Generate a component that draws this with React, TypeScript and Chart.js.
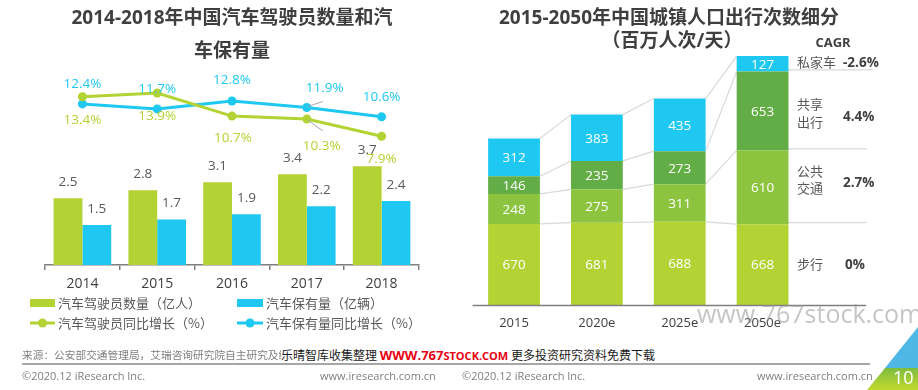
import React, { useEffect, useRef } from 'react';
import { Chart, registerables } from 'chart.js';

Chart.register(...registerables);

const FONT = "'Open Sans', 'Noto Sans CJK SC', sans-serif";

// ---- Left chart data ----
const leftYears = ['2014', '2015', '2016', '2017', '2018'];
const driverCount = [2.5, 2.8, 3.1, 3.4, 3.7];
const vehicleCount = [1.5, 1.7, 1.9, 2.2, 2.4];
const driverGrowth = [13.4, 13.9, 10.7, 10.3, 7.9];
const vehicleGrowth = [12.4, 11.7, 12.8, 11.9, 10.6];
const leftSeriesNames = ['汽车驾驶员数量（亿人）', '汽车保有量（亿辆）', '汽车驾驶员同比增长（%）', '汽车保有量同比增长（%）'];

// ---- Right chart data ----
const rightYears = ['2015', '2020e', '2025e', '2050e'];
const walk = [670, 681, 688, 668];
const transit = [248, 275, 311, 610];
const shared = [146, 235, 273, 653];
const privateCar = [312, 383, 435, 127];
const modeNames = ['步行', '公共交通', '共享出行', '私家车'];
const modeCagr = ['0%', '2.7%', '4.4%', '-2.6%'];

const GREEN = '#B3D234';
const BLUE = '#1FC8F0';
const MIDGREEN = '#8CC43F';
const DARKGREEN = '#63AD46';

// label offsets (style only)
const blueOffsets = [[0, -20], [0, -20], [0, -21], [18, -19], [0, -20]];
const greenOffsets = [[0, 23], [0, 23], [1, 22], [15, 27], [0, 23]];

const leftLabelPlugin = {
  id: 'leftLabels',
  afterDatasetsDraw(chart: any) {
    const ctx = chart.ctx;
    ctx.save();
    ctx.textAlign = 'center';
    ctx.textBaseline = 'middle';
    chart.data.datasets.forEach((ds: any, di: number) => {
      const meta = chart.getDatasetMeta(di);
      meta.data.forEach((el: any, i: number) => {
        const v = ds.data[i];
        if (ds.type === 'bar') {
          ctx.font = `13.5px ${FONT}`;
          ctx.fillStyle = '#595959';
          ctx.fillText(v.toFixed(1), el.x, el.y - 16);
        } else {
          const isBlue = ds.borderColor === BLUE;
          const off = isBlue ? blueOffsets[i] : greenOffsets[i];
          if (i === 3) {
            ctx.strokeStyle = '#a6a6a6';
            ctx.lineWidth = 1;
            ctx.beginPath();
            if (isBlue) {
              ctx.moveTo(el.x + 1, el.y - 1);
              ctx.lineTo(el.x + 16, el.y - 6);
            } else {
              ctx.moveTo(el.x + 1, el.y + 1);
              ctx.lineTo(el.x + 16, el.y + 12);
            }
            ctx.stroke();
          }
          ctx.font = `13.5px ${FONT}`;
          ctx.fillStyle = isBlue ? BLUE : GREEN;
          ctx.fillText(v.toFixed(1) + '%', el.x + off[0], el.y + off[1]);
        }
      });
    });
    ctx.restore();
  },
};

const rightPlugin = {
  id: 'rightExtras',
  beforeDatasetsDraw(chart: any) {
    const ctx = chart.ctx;
    const area = chart.chartArea;
    ctx.save();
    ctx.strokeStyle = '#d9d9d9';
    ctx.lineWidth = 1.2;
    chart.data.datasets.forEach((_ds: any, di: number) => {
      const meta = chart.getDatasetMeta(di);
      for (let i = 0; i < meta.data.length - 1; i++) {
        const a = meta.data[i];
        const b = meta.data[i + 1];
        ctx.beginPath();
        ctx.moveTo(a.x + a.width / 2, a.y);
        ctx.lineTo(b.x - b.width / 2, b.y);
        ctx.stroke();
      }
    });
    for (let di = 0; di < 3; di++) {
      const meta = chart.getDatasetMeta(di);
      const el = meta.data[meta.data.length - 1];
      ctx.beginPath();
      ctx.moveTo(el.x + el.width / 2 - 7, el.y - 1.5);
      ctx.lineTo(area.right + (di === 2 ? 69 : 63), el.y - 1.5);
      ctx.stroke();
    }
    ctx.restore();
  },
  afterDatasetsDraw(chart: any) {
    const ctx = chart.ctx;
    const area = chart.chartArea;
    ctx.save();
    ctx.textAlign = 'center';
    ctx.textBaseline = 'middle';
    ctx.font = `13.5px ${FONT}`;
    ctx.fillStyle = '#ffffff';
    chart.data.datasets.forEach((ds: any, di: number) => {
      const meta = chart.getDatasetMeta(di);
      meta.data.forEach((el: any, i: number) => {
        ctx.fillText(String(ds.data[i]), el.x, (el.y + el.base) / 2 + 1);
      });
    });
    ctx.strokeStyle = '#7f7f7f';
    ctx.lineWidth = 1.5;
    ctx.beginPath();
    ctx.moveTo(area.left, area.bottom + 0.5);
    ctx.lineTo(area.right + 62, area.bottom + 0.5);
    ctx.stroke();
    ctx.restore();
  },
};

function Txt(props: { x: number; y: number; children: any; size?: number; color?: string; bold?: boolean; center?: boolean; family?: string; style?: any }) {
  const { x, y, children, size = 13, color = '#595959', bold, center, family, style } = props;
  return (
    <div
      style={{
        position: 'absolute',
        left: x,
        top: y - 12,
        height: 24,
        lineHeight: '24px',
        whiteSpace: 'nowrap',
        fontFamily: family || FONT,
        fontSize: size,
        color,
        fontWeight: bold ? 700 : 400,
        transform: center ? 'translateX(-50%)' : undefined,
        ...style,
      }}
    >
      {children}
    </div>
  );
}

export default function App() {
  const leftRef = useRef<HTMLCanvasElement>(null);
  const rightRef = useRef<HTMLCanvasElement>(null);

  useEffect(() => {
    const left = new Chart(leftRef.current as HTMLCanvasElement, {
      type: 'bar',
      data: {
        labels: leftYears,
        datasets: [
          {
            type: 'line', label: leftSeriesNames[2], data: driverGrowth, yAxisID: 'y1',
            borderColor: GREEN, backgroundColor: GREEN, borderWidth: 3, pointRadius: 4.5,
            pointBackgroundColor: GREEN, pointBorderWidth: 0, order: 0, tension: 0,
          },
          {
            type: 'line', label: leftSeriesNames[3], data: vehicleGrowth, yAxisID: 'y1',
            borderColor: BLUE, backgroundColor: BLUE, borderWidth: 3, pointRadius: 4.5,
            pointBackgroundColor: BLUE, pointBorderWidth: 0, order: 0, tension: 0,
          },
          {
            type: 'bar', label: leftSeriesNames[0], data: driverCount, yAxisID: 'y',
            backgroundColor: GREEN, order: 1, categoryPercentage: 0.77, barPercentage: 1,
          },
          {
            type: 'bar', label: leftSeriesNames[1], data: vehicleCount, yAxisID: 'y',
            backgroundColor: BLUE, order: 1, categoryPercentage: 0.77, barPercentage: 1,
          },
        ] as any,
      },
      options: {
        responsive: false,
        animation: false,
        layout: { padding: { left: 45, right: 41, top: 78, bottom: 0 } },
        plugins: { legend: { display: false }, tooltip: { enabled: false } },
        scales: {
          x: {
            offset: true,
            grid: { offset: true, drawOnChartArea: false, drawTicks: true, tickLength: 5, color: '#7f7f7f', lineWidth: 1.5 },
            border: { display: true, color: '#7f7f7f', width: 1.5 },
            ticks: { font: { size: 14, family: FONT }, color: '#404040', padding: 6 },
            afterFit: (s: any) => { s.height = 35; },
          },
          y: { display: false, min: 0, max: 7 },
          y1: { display: false, min: -10, max: 16 },
        },
      } as any,
      plugins: [leftLabelPlugin],
    });

    const right = new Chart(rightRef.current as HTMLCanvasElement, {
      type: 'bar',
      data: {
        labels: rightYears,
        datasets: [
          { label: modeNames[0], data: walk, backgroundColor: GREEN },
          { label: modeNames[1], data: transit, backgroundColor: MIDGREEN },
          { label: modeNames[2], data: shared, backgroundColor: DARKGREEN },
          { label: modeNames[3], data: privateCar, backgroundColor: BLUE },
        ].map((d) => ({ ...d, categoryPercentage: 1, barPercentage: 0.625, borderWidth: 0 })),
      },
      options: {
        responsive: false,
        animation: false,
        layout: { padding: { left: 12.6, right: 114, top: 51, bottom: 0 } },
        plugins: { legend: { display: false }, tooltip: { enabled: false } },
        scales: {
          x: {
            stacked: true,
            grid: { display: false, drawTicks: false },
            border: { display: false },
            ticks: { font: { size: 13, family: FONT }, color: '#404040', padding: 10 },
            afterFit: (s: any) => { s.height = 35; },
          },
          y: { display: false, stacked: true, min: 0, max: 2100 },
        },
      } as any,
      plugins: [rightPlugin],
    });

    return () => {
      left.destroy();
      right.destroy();
    };
  }, []);

  const CJK = "'Noto Sans CJK SC', 'Open Sans', sans-serif";

  return (
    <div style={{ position: 'fixed', left: 0, top: 0, width: 918, height: 390, background: '#fff', overflow: 'hidden', fontFamily: FONT }}>
      <canvas ref={leftRef} width={460} height={300} style={{ position: 'absolute', left: 0, top: 0 }} />
      <canvas ref={rightRef} width={458} height={340} style={{ position: 'absolute', left: 460, top: 0 }} />

      {/* Left title */}
      <Txt x={232} y={17} size={19} bold center color="#3f3f3f">2014-2018年中国汽车驾驶员数量和汽</Txt>
      <Txt x={232} y={50} size={19} bold center color="#3f3f3f">车保有量</Txt>

      {/* Left legend */}
      <div style={{ position: 'absolute', left: 30, top: 299, width: 25, height: 8, background: GREEN }} />
      <Txt x={58} y={303} family={CJK}>{leftSeriesNames[0]}</Txt>
      <div style={{ position: 'absolute', left: 237, top: 299, width: 26, height: 8, background: BLUE }} />
      <Txt x={266} y={303} family={CJK}>{leftSeriesNames[1]}</Txt>
      <svg style={{ position: 'absolute', left: 28, top: 316 }} width={30} height={14}>
        <line x1={2} y1={7} x2={27} y2={7} stroke={GREEN} strokeWidth={3} />
        <circle cx={14.5} cy={7} r={4.5} fill={GREEN} />
      </svg>
      <Txt x={58} y={323} family={CJK}>{leftSeriesNames[2]}</Txt>
      <svg style={{ position: 'absolute', left: 235, top: 316 }} width={30} height={14}>
        <line x1={2} y1={7} x2={28} y2={7} stroke={BLUE} strokeWidth={3} />
        <circle cx={15} cy={7} r={4.5} fill={BLUE} />
      </svg>
      <Txt x={266} y={323} family={CJK}>{leftSeriesNames[3]}</Txt>

      {/* Right title */}
      <Txt x={669} y={17} size={19} bold center color="#3f3f3f">2015-2050年中国城镇人口出行次数细分</Txt>
      <Txt x={672} y={40} size={19} bold center color="#3f3f3f">（百万人次/天）</Txt>

      {/* Right annotations */}
      <Txt x={833} y={42} size={13} bold center color="#3f3f3f">CAGR</Txt>
      <Txt x={797} y={62}>{modeNames[3]}</Txt>
      <Txt x={843} y={62} size={13.5} bold color="#3f3f3f">{modeCagr[3]}</Txt>
      <Txt x={797} y={104}>共享</Txt>
      <Txt x={797} y={122}>出行</Txt>
      <Txt x={843} y={116} size={13.5} bold color="#3f3f3f">{modeCagr[2]}</Txt>
      <Txt x={797} y={171}>公共</Txt>
      <Txt x={797} y={188}>交通</Txt>
      <Txt x={843} y={182} size={13.5} bold color="#3f3f3f">{modeCagr[1]}</Txt>
      <Txt x={797} y={264}>{modeNames[0]}</Txt>
      <Txt x={845} y={264} size={13.5} bold color="#3f3f3f">{modeCagr[0]}</Txt>

      {/* Big watermark */}
      <Txt x={697} y={313} size={25} color="rgba(150,150,150,0.55)" style={{ height: 34, lineHeight: '34px', top: 296 }}>www.767stock.com</Txt>

      {/* Footer */}
      <Txt x={22} y={355} size={10.7} color="#7f7f7f">来源：公安部交通管理局，艾瑞咨询研究院自主研究及绘制。</Txt>
      <div style={{ position: 'absolute', left: 281, top: 346, height: 18, lineHeight: '18px', background: '#fff', paddingRight: 2, whiteSpace: 'nowrap', fontSize: 12, color: '#1a1a1a', fontFamily: CJK }}>
        乐晴智库收集整理{' '}
        <span style={{ color: '#e60012', fontWeight: 700, fontFamily: "'Open Sans', sans-serif", fontSize: 13 }}>
          WWW.767<span style={{ fontSize: 11 }}>STOCK.COM</span>
        </span>{' '}
        更多投资研究资料免费下载
      </div>
      <div style={{ position: 'absolute', left: 22, top: 363, width: 848, height: 1.5, background: '#a6a6a6' }} />
      <Txt x={22} y={376} size={11} color="#7f7f7f">©2020.12 iResearch Inc.</Txt>
      <Txt x={320} y={376} size={11} color="#7f7f7f">www.iresearch.com.cn</Txt>
      <Txt x={462} y={376} size={11} color="#7f7f7f">©2020.12 iResearch Inc.</Txt>
      <Txt x={757} y={376} size={11} color="#7f7f7f">www.iresearch.com.cn</Txt>

      {/* Corner decoration */}
      <svg style={{ position: 'absolute', left: 0, top: 0 }} width={918} height={390}>
        <defs>
          <linearGradient id="cg" x1="0" y1="1" x2="0" y2="0">
            <stop offset="0" stopColor="#c2d82e" />
            <stop offset="1" stopColor="#7dbd3f" />
          </linearGradient>
        </defs>
        <polygon points="885,368 918,327 918,368" fill="#4fb8e6" />
        <polygon points="867,390 885,368 918,368 918,390" fill="url(#cg)" />
      </svg>
      <Txt x={893} y={377} size={18} color="#ffffff">10</Txt>
    </div>
  );
}
